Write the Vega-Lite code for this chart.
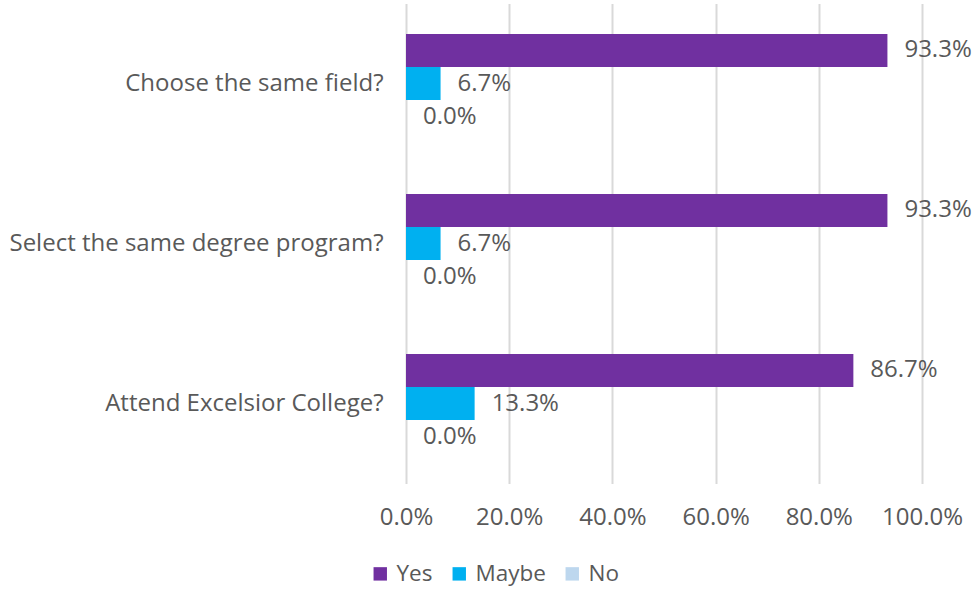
{
  "$schema": "https://vega.github.io/schema/vega-lite/v6.json",
  "width": 516,
  "height": 480,
  "autosize": {"type": "none"},
  "padding": {"left": 406, "top": 3.5, "right": 57, "bottom": 105},
  "background": "white",
  "config": {
    "view": {"stroke": null},
    "font": "Open Sans",
    "text": {"font": "Open Sans"}
  },
  "data": {
    "values": [
      {"question": "Choose the same field?", "answer": "Yes", "value": 0.933, "label": "93.3%"},
      {"question": "Choose the same field?", "answer": "Maybe", "value": 0.067, "label": "6.7%"},
      {"question": "Choose the same field?", "answer": "No", "value": 0.0, "label": "0.0%"},
      {"question": "Select the same degree program?", "answer": "Yes", "value": 0.933, "label": "93.3%"},
      {"question": "Select the same degree program?", "answer": "Maybe", "value": 0.067, "label": "6.7%"},
      {"question": "Select the same degree program?", "answer": "No", "value": 0.0, "label": "0.0%"},
      {"question": "Attend Excelsior College?", "answer": "Yes", "value": 0.867, "label": "86.7%"},
      {"question": "Attend Excelsior College?", "answer": "Maybe", "value": 0.133, "label": "13.3%"},
      {"question": "Attend Excelsior College?", "answer": "No", "value": 0.0, "label": "0.0%"}
    ]
  },
  "encoding": {
    "y": {
      "field": "question", "type": "nominal",
      "sort": ["Choose the same field?", "Select the same degree program?", "Attend Excelsior College?"],
      "scale": {"paddingInner": 0.38, "paddingOuter": 0.19},
      "axis": {"title": null, "domain": false, "ticks": false, "labelFontSize": 24, "labelColor": "#595959", "labelPadding": 23, "labelFont": "Open Sans", "labelLimit": 420}
    },
    "yOffset": {
      "field": "answer", "type": "nominal",
      "sort": ["Yes", "Maybe", "No"],
      "scale": {"paddingInner": 0, "paddingOuter": 0}
    },
    "x": {
      "field": "value", "type": "quantitative",
      "scale": {"domain": [0, 1], "nice": false},
      "axis": {"title": null, "format": ".1%", "values": [0, 0.2, 0.4, 0.6, 0.8, 1.0], "domain": false, "ticks": false, "grid": true, "gridColor": "#D9D9D9", "gridWidth": 2, "labelFontSize": 24, "labelColor": "#595959", "labelPadding": 22, "labelFont": "Open Sans", "labelFlush": false, "labelOverlap": false}
    }
  },
  "layer": [
    {
      "mark": {"type": "bar"},
      "encoding": {
        "color": {
          "field": "answer", "type": "nominal",
          "sort": ["Yes", "Maybe", "No"],
          "scale": {"domain": ["Yes", "Maybe", "No"], "range": ["#7030A0", "#00B0F0", "#BDD7EE"]},
          "legend": {
            "title": null, "orient": "none", "direction": "horizontal",
            "legendX": -37, "legendY": 559,
            "symbolType": "square", "symbolSize": 180, "symbolStrokeWidth": 0,
            "labelFontSize": 22.5, "labelColor": "#595959", "labelFont": "Open Sans",
            "columnPadding": 15, "labelOffset": 5
          }
        }
      }
    },
    {
      "mark": {"type": "text", "align": "left", "baseline": "middle", "dx": 17, "fontSize": 24, "color": "#595959"},
      "encoding": {"text": {"field": "label"}}
    }
  ]
}
